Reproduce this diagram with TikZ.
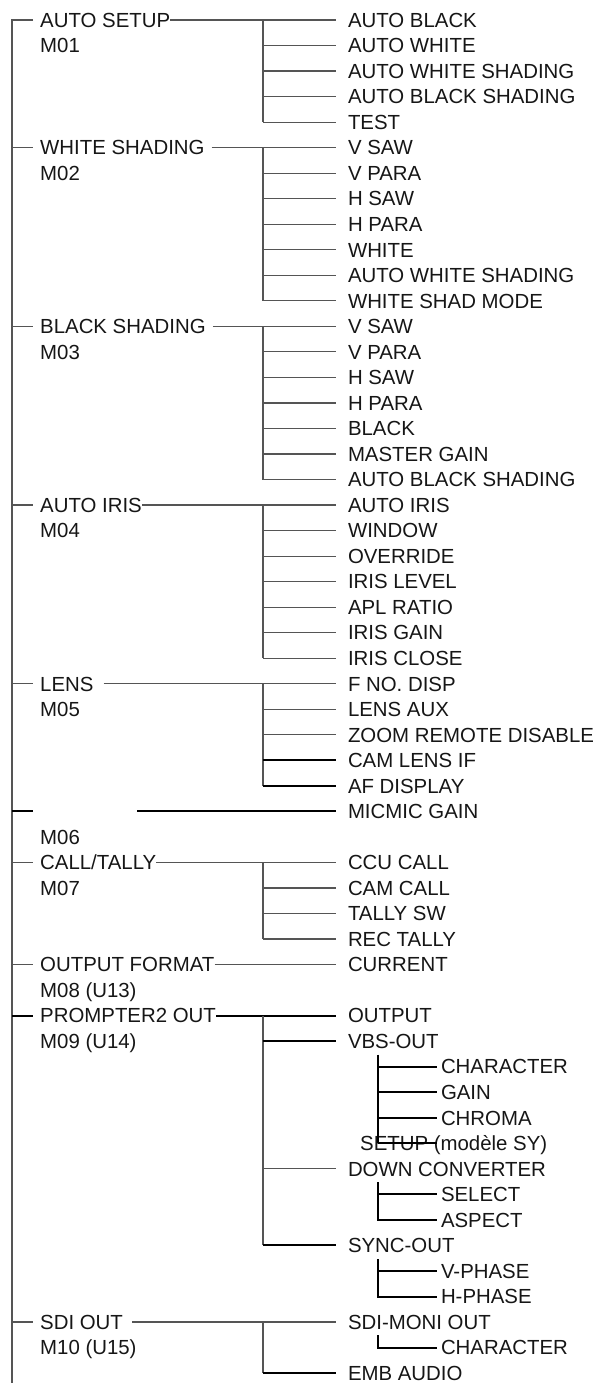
\documentclass[tikz,border=0pt]{standalone}
\usepackage{fontspec}
\setmainfont{Liberation Sans}
\usetikzlibrary{calc}
\definecolor{txt}{HTML}{161616}
\definecolor{lg}{HTML}{555555}
\newcommand\rowy[1]{20+25.53*(#1-1)}
\begin{document}
\begin{tikzpicture}[x=1pt,y=-1pt,
  lab/.style={inner sep=0pt, anchor=west, text height=14.5pt, text depth=0pt,
    font=\fontsize{20.4}{22}\selectfont, text=txt},
  lone/.style={lab},
  ltwo/.style={lab, outer xsep=12pt},
  lthree/.style={lab, outer xsep=4pt},
  ln/.style={draw=lg, line width=1.2pt},
  lnb/.style={draw=black, line width=2pt},
  lnm/.style={draw=lg, line width=1.6pt},
  mainln/.style={draw=lg, line width=2pt}]
\useasboundingbox (0,0) rectangle (599,1390);
\coordinate (top) at (12,20);
\coordinate (bot) at (12,1383);
\coordinate (bx) at (263,0);
\coordinate (sx) at (378,0);

% ---------- level 1 ----------
\node[lone] (a1) at (40,{\rowy{1}}) {AUTO SETUP};
\node[lone] (m1) at (40,{\rowy{2}}) {M01};
\node[lone] (a2) at (40,{\rowy{6}}) {WHITE SHADING};
\node[lone] (m2) at (40,{\rowy{7}}) {M02};
\node[lone] (a3) at (40,{\rowy{13}}) {BLACK SHADING};
\node[lone] (m3) at (40,{\rowy{14}}) {M03};
\node[lone] (a4) at (40,{\rowy{20}}) {AUTO IRIS};
\node[lone] (m4) at (40,{\rowy{21}}) {M04};
\node[lone] (a5) at (40,{\rowy{27}}) {LENS};
\node[lone] (m5) at (40,{\rowy{28}}) {M05};
\coordinate (a6) at (40,{\rowy{32}});
\coordinate (a6s) at (137,{\rowy{32}});
\node[lone] (m6) at (40,{\rowy{33}}) {M06};
\node[lone] (a7) at (40,{\rowy{34}}) {CALL/TALLY};
\node[lone] (m7) at (40,{\rowy{35}}) {M07};
\node[lone] (a8) at (40,{\rowy{38}}) {OUTPUT FORMAT};
\node[lone] (m8) at (40,{\rowy{39}}) {M08 (U13)};
\node[lone] (a9) at (40,{\rowy{40}}) {PROMPTER2 OUT};
\node[lone] (m9) at (40,{\rowy{41}}) {M09 (U14)};
\node[lone] (a10) at (40,{\rowy{52}}) {SDI OUT};
\node[lone] (m10) at (40,{\rowy{53}}) {M10 (U15)};

% ---------- level 2 ----------
\foreach \t/\r/\n in {AUTO BLACK/1/c1a, AUTO WHITE/2/c1b, AUTO WHITE SHADING/3/c1c,
  AUTO BLACK SHADING/4/c1d, TEST/5/c1e,
  V SAW/6/c2a, V PARA/7/c2b, H SAW/8/c2c, H PARA/9/c2d, WHITE/10/c2e,
  AUTO WHITE SHADING/11/c2f, WHITE SHAD MODE/12/c2g,
  V SAW/13/c3a, V PARA/14/c3b, H SAW/15/c3c, H PARA/16/c3d, BLACK/17/c3e,
  MASTER GAIN/18/c3f, AUTO BLACK SHADING/19/c3g,
  AUTO IRIS/20/c4a, WINDOW/21/c4b, OVERRIDE/22/c4c, IRIS LEVEL/23/c4d,
  APL RATIO/24/c4e, IRIS GAIN/25/c4f, IRIS CLOSE/26/c4g,
  F NO. DISP/27/c5a, LENS AUX/28/c5b, ZOOM REMOTE DISABLE/29/c5c,
  CAM LENS IF/30/c5d, AF DISPLAY/31/c5e,
  MICMIC GAIN/32/c6a,
  CCU CALL/34/c7a, CAM CALL/35/c7b, TALLY SW/36/c7c, REC TALLY/37/c7d,
  CURRENT/38/c8a,
  OUTPUT/40/c9a, VBS-OUT/41/c9b, DOWN CONVERTER/46/c9c, SYNC-OUT/49/c9d,
  SDI-MONI OUT/52/c10a, EMB AUDIO/54/c10b}
  \node[ltwo] (\n) at (336,{\rowy{\r}}) {\t};

% ---------- level 3 ----------
\foreach \t/\r/\n in {CHARACTER/42/d1a, GAIN/43/d1b, CHROMA/44/d1c,
  SELECT/47/d2a, ASPECT/48/d2b, V-PHASE/50/d3a, H-PHASE/51/d3b,
  CHARACTER/53/d4a}
  \node[lthree] (\n) at (437,{\rowy{\r}}) {\t};
\node[lab] (setup) at (360,{\rowy{45}}) {SETUP (modèle SY)};
\coordinate (setupend) at (437,{\rowy{45}});

% ---------- main trunk ----------
\draw[mainln] ([xshift=-7pt]a1.west) -- (a1.west -| top) -- (bot);
\foreach \n in {a2,a3,a4,a5,a7,a8,a10}
  \draw[ln] (\n.west -| top) -- ([xshift=-7pt]\n.west);
\draw[lnb] (a6 -| top) -- ([xshift=-7pt]a6);
\draw[lnb] (a9.west -| top) -- ([xshift=-7pt]a9.west);

% ---------- level 1 -> level 2 ----------
\draw[ln] (a1.east) -- (c1a.west);
\draw[ln] ([xshift=7pt]a2.east) -- (c2a.west);
\draw[ln] ([xshift=7pt]a3.east) -- (c3a.west);
\draw[ln] (a4.east) -- (c4a.west);
\draw[ln] ([xshift=10pt]a5.east) -- (c5a.west);
\draw[lnb] (a6s) -- (c6a.west);
\draw[ln] (a7.east) -- (c7a.west);
\draw[ln] (a8.east) -- (c8a.west);
\draw[lnb] (a9.east) -- (c9a.west);
\draw[ln] ([xshift=9pt]a10.east) -- (c10a.west);

% ---------- branch verticals and ticks ----------
\draw[ln] (c1a.west -| bx) -- (c1e.west -| bx);
\foreach \n in {c1b,c1c,c1d,c1e} \draw[ln] (\n.west -| bx) -- (\n.west);
\draw[ln] (c2a.west -| bx) -- (c2g.west -| bx);
\foreach \n in {c2b,c2c,c2d,c2e,c2f,c2g} \draw[ln] (\n.west -| bx) -- (\n.west);
\draw[ln] (c3a.west -| bx) -- (c3g.west -| bx);
\foreach \n in {c3b,c3c,c3d,c3e,c3f,c3g} \draw[ln] (\n.west -| bx) -- (\n.west);
\draw[ln] (c4a.west -| bx) -- (c4g.west -| bx);
\foreach \n in {c4b,c4c,c4d,c4e,c4f,c4g} \draw[ln] (\n.west -| bx) -- (\n.west);
\draw[ln] (c5a.west -| bx) -- (c5e.west -| bx);
\foreach \n in {c5b,c5c} \draw[ln] (\n.west -| bx) -- (\n.west);
\foreach \n in {c5d,c5e} \draw[lnb] (\n.west -| bx) -- (\n.west);
\draw[ln] (c7a.west -| bx) -- (c7d.west -| bx);
\foreach \n in {c7b,c7c,c7d} \draw[ln] (\n.west -| bx) -- (\n.west);
\draw[lnm] (c9a.west -| bx) -- (c9d.west -| bx);
\draw[lnb] (c9b.west -| bx) -- (c9b.west);
\draw[ln] (c9c.west -| bx) -- (c9c.west);
\draw[lnb] (c9d.west -| bx) -- (c9d.west);
\draw[ln] (c10a.west -| bx) -- (c10b.west -| bx);
\draw[lnb] (c10b.west -| bx) -- (c10b.west);

% ---------- level 3 branches ----------
\draw[lnb] ($(c9b.south -| sx)+(0,6)$) -- (setup.west -| sx);
\foreach \n in {d1a,d1b,d1c} \draw[lnb] (\n.west -| sx) -- (\n.west);
\draw[lnb] (setup.west -| sx) -- (setupend);
\draw[lnb] ($(c9c.south -| sx)+(0,6)$) -- (d2b.west -| sx) -- (d2b.west);
\draw[lnb] (d2a.west -| sx) -- (d2a.west);
\draw[lnb] ($(c9d.south -| sx)+(0,6)$) -- (d3b.west -| sx) -- (d3b.west);
\draw[lnb] (d3a.west -| sx) -- (d3a.west);
\draw[lnb] ($(c10a.south -| sx)+(0,6)$) -- (d4a.west -| sx) -- (d4a.west);
\end{tikzpicture}
\end{document}
